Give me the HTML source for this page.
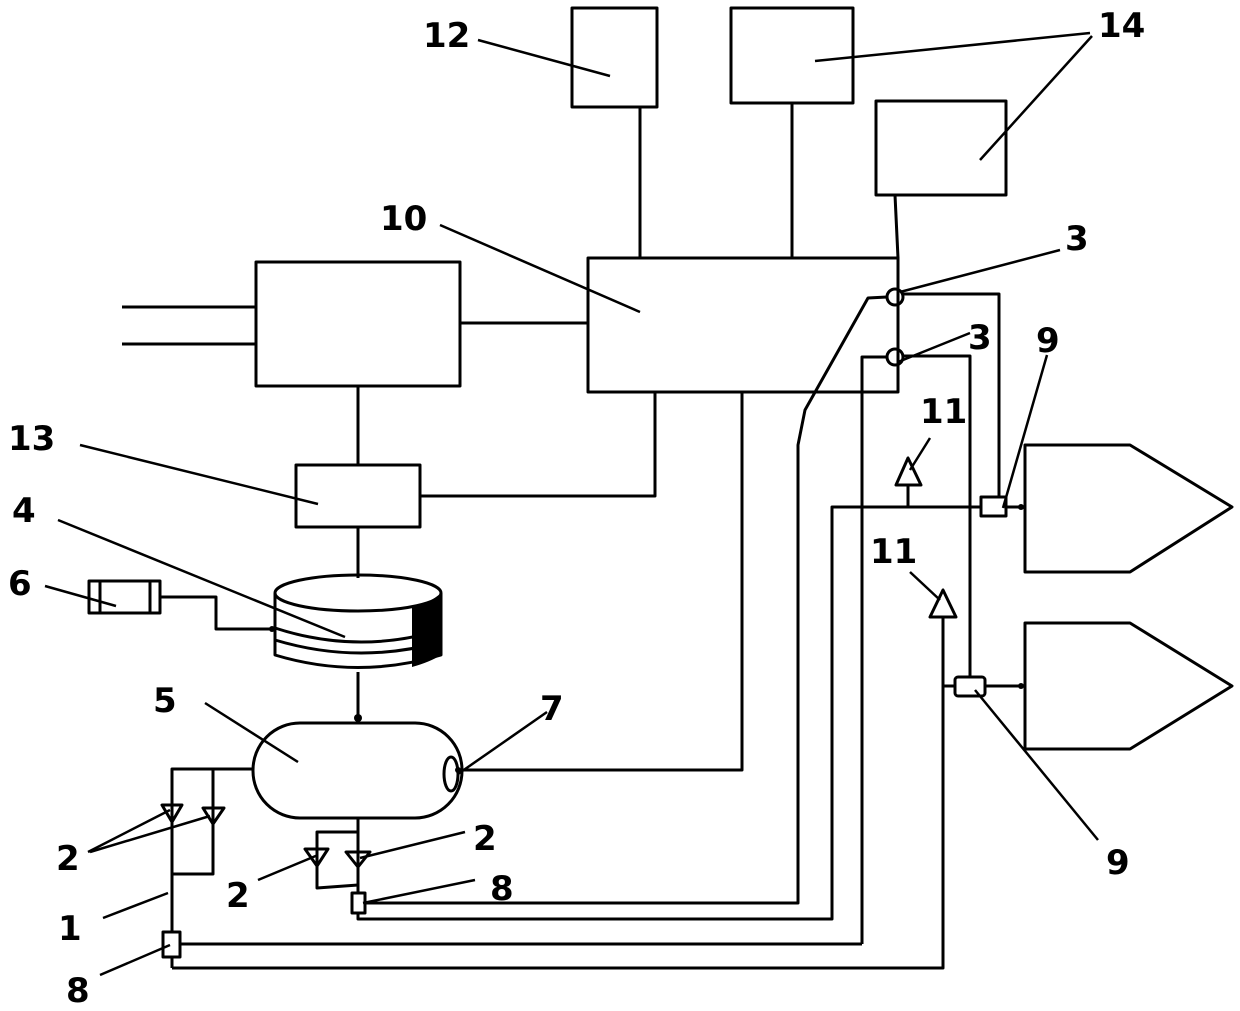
<!DOCTYPE html>
<html><head><meta charset="utf-8"><style>
html,body{margin:0;padding:0;background:#fff;}
svg{display:block;}
text{font-family:"DejaVu Sans","Liberation Sans",sans-serif;font-size:34px;font-weight:bold;fill:#000;}
</style></head><body>
<svg width="1240" height="1011" viewBox="0 0 1240 1011" xmlns="http://www.w3.org/2000/svg">
<g fill="none" stroke="#000" stroke-width="3" stroke-linejoin="round">
<!-- top boxes -->
<rect x="572" y="8" width="85" height="99"/>
<rect x="731" y="8" width="122" height="95"/>
<rect x="876" y="101" width="130" height="94"/>
<!-- controller 10 -->
<rect x="588" y="258" width="310" height="134"/>
<line x1="640" y1="107" x2="640" y2="258"/>
<line x1="792" y1="103" x2="792" y2="258"/>
<polyline points="895,195 898,258 898,392"/>
<!-- left box -->
<rect x="256" y="262" width="204" height="124"/>
<line x1="122" y1="307" x2="256" y2="307"/>
<line x1="122" y1="344" x2="256" y2="344"/>
<line x1="460" y1="323" x2="588" y2="323"/>
<line x1="358" y1="386" x2="358" y2="465"/>
<!-- box 13 -->
<rect x="296" y="465" width="124" height="62"/>
<polyline points="420,496 655,496 655,392"/>
<line x1="358" y1="527" x2="358" y2="578"/>
<!-- 6 -->
<rect x="89" y="581" width="71" height="32"/>
<line x1="100" y1="581" x2="100" y2="613"/>
<line x1="150" y1="581" x2="150" y2="613"/>
<polyline points="160,597 216,597 216,629 272,629"/>
<!-- cylinder 4 -->
<path d="M275,593 L275,655 Q358,680 441,655 L441,593"/>
<ellipse cx="358" cy="593" rx="83" ry="18"/>
<path d="M275,628 Q358,655 441,630"/>
<path d="M275,640 Q358,665 441,642"/>
<line x1="358" y1="672" x2="358" y2="720"/>
<!-- tank 5 -->
<rect x="253" y="723" width="209" height="95" rx="47" ry="47"/>
<ellipse cx="451" cy="774" rx="7" ry="17"/>
<polyline points="458,770 742,770 742,392"/>
<!-- left branch -->
<polyline points="253,769 172,769 172,932"/>
<polyline points="213,769 213,874 172,874"/>
<line x1="172" y1="957" x2="172" y2="968"/>
<rect x="163" y="932" width="17" height="25"/>
<line x1="180" y1="944" x2="862" y2="944"/>
<polyline points="172,968 943,968 943,617"/>
<!-- bottom branch -->
<polyline points="358,818 358,893"/>
<polyline points="358,832 317,832 317,888 358,885"/>
<rect x="352" y="893" width="13" height="20"/>
<polyline points="365,903 798,903 798,445 805,410 868,298 887,297"/>
<polyline points="358,913 358,919 832,919 832,507 981,507"/>
<polyline points="862,944 862,357 887,357"/>
<!-- circles 3 -->
<circle cx="895" cy="297" r="8"/>
<circle cx="895" cy="357" r="8"/>
<polyline points="903,294 999,294 999,497"/>
<polyline points="903,356 970,356 970,677"/>
<!-- sensors 9 -->
<rect x="981" y="497" width="25" height="19"/>
<line x1="1006" y1="507" x2="1023" y2="507"/>
<rect x="955" y="677" width="30" height="19" rx="3"/>
<line x1="943" y1="686" x2="955" y2="686"/>
<line x1="985" y1="686" x2="1023" y2="686"/>
<!-- 11 triangles -->
<line x1="908" y1="507" x2="908" y2="485"/>
<polygon points="908,458 896,485 921,485"/>
<polygon points="943,590 930,617 956,617"/>
<!-- pentagons -->
<polygon points="1025,445 1130,445 1232,507 1130,572 1025,572"/>
<polygon points="1025,623 1130,623 1232,686 1130,749 1025,749"/>
<!-- valves 2 -->
<polygon points="162,805 182,805 172,822"/>
<polygon points="203,808 224,808 213,824"/>
<polygon points="305,849 328,849 317,866"/>
<polygon points="346,852 370,852 358,867"/>
</g>
<!-- shading cylinder -->
<path d="M412,608 Q430,603 441,593 L441,655 Q430,662 412,667 Z" fill="#000"/>
<g fill="#000">
<circle cx="272" cy="629" r="3"/><circle cx="358" cy="718" r="4"/><circle cx="458" cy="770" r="3"/>
<circle cx="1021" cy="507" r="3"/><circle cx="1021" cy="686" r="3"/>
</g>
<!-- leaders -->
<g stroke="#000" stroke-width="2.5" fill="none">
<line x1="478" y1="40" x2="610" y2="76"/>
<line x1="1090" y1="33" x2="815" y2="61"/>
<line x1="1092" y1="36" x2="980" y2="160"/>
<line x1="440" y1="225" x2="640" y2="312"/>
<line x1="1060" y1="250" x2="900" y2="292"/>
<line x1="970" y1="333" x2="898" y2="362"/>
<line x1="1047" y1="355" x2="1003" y2="508"/>
<line x1="930" y1="438" x2="910" y2="470"/>
<line x1="910" y1="572" x2="940" y2="600"/>
<line x1="80" y1="445" x2="318" y2="504"/>
<line x1="58" y1="520" x2="345" y2="637"/>
<line x1="45" y1="586" x2="116" y2="606"/>
<line x1="205" y1="703" x2="298" y2="762"/>
<line x1="547" y1="712" x2="458" y2="774"/>
<line x1="88" y1="852" x2="170" y2="810"/>
<line x1="90" y1="852" x2="210" y2="816"/>
<line x1="258" y1="880" x2="318" y2="855"/>
<line x1="465" y1="832" x2="360" y2="858"/>
<line x1="475" y1="880" x2="363" y2="903"/>
<line x1="103" y1="918" x2="168" y2="893"/>
<line x1="100" y1="975" x2="170" y2="945"/>
<line x1="1098" y1="840" x2="975" y2="690"/>
</g>
<text x="423" y="47">12</text>
<text x="1098" y="37">14</text>
<text x="380" y="230">10</text>
<text x="1065" y="250">3</text>
<text x="968" y="349">3</text>
<text x="1036" y="352">9</text>
<text x="920" y="423">11</text>
<text x="870" y="563">11</text>
<text x="8" y="450">13</text>
<text x="12" y="522">4</text>
<text x="8" y="595">6</text>
<text x="153" y="712">5</text>
<text x="540" y="720">7</text>
<text x="56" y="870">2</text>
<text x="226" y="907">2</text>
<text x="473" y="850">2</text>
<text x="490" y="900">8</text>
<text x="58" y="940">1</text>
<text x="66" y="1002">8</text>
<text x="1106" y="874">9</text>
</svg>
</body></html>
